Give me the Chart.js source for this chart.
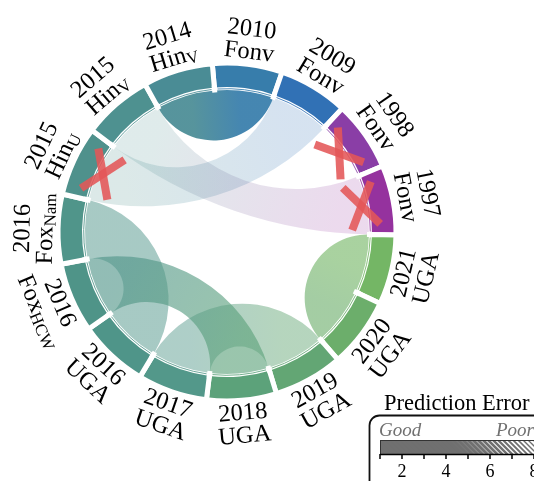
<!DOCTYPE html>
<html>
<head>
<meta charset="utf-8">
<script src="https://cdn.jsdelivr.net/npm/chart.js@4"></script>
<style>
html,body{margin:0;padding:0;background:#fff;overflow:hidden;}
canvas{display:block;}
</style>
</head>
<body>
<canvas id="c" width="534" height="481"></canvas>
<script>
// ---- data ----
const segYears = ['2010','2009','1998','1997','2021','2020','2019','2018','2017','2016','2016','2016','2015','2015','2014'];
const segNames = ['Fonv','Fonv','Fonv','Fonv','UGA','UGA','UGA','UGA','UGA','UGA','Fox','Fox','Hin','Hin','Hin'];
const segSubs  = ['','','','','','','','','','','HCW','Nam','U','V','V'];
const segSizes = [1,1,1,1,1,1,1,1,1,1,1,1,1,1,1];
const segColors = ['#377dab','#3171b5','#8a3ea6','#95329e','#74b665','#6cae6b','#63a674','#5ca27a','#53988a','#4f9589','#4f9488','#50958a','#4f918c','#4e9190','#4a8c95'];
const chordFrom = [1, 3, 14, 4, 11, 8, 10];
const chordTo   = [12, 13, 0, 5, 9, 6, 7];
const chordOpacity = [0.2, 0.18, 0.93, 0.62, 0.5, 0.47, 0.62];
const failedSegments = [12, 2, 3];
const legendTicks = [1,2,3,4,5,6,7,8];
const legendLabels = [2,4,6,8];
const legendTitle = 'Prediction Error';

function rgba(hex, a){
  const n = parseInt(hex.slice(1),16);
  return `rgba(${(n>>16)&255},${(n>>8)&255},${n&255},${a})`;
}

const SERIF = '"Liberation Serif","DejaVu Serif",serif';
const GAP = 5;

const chordPlugin = {
  id:'chords',
  afterDatasetsDraw(chart){
    const ctx = chart.ctx;
    const arcs = chart.getDatasetMeta(0).data;
    const cx = arcs[0].x, cy = arcs[0].y;
    const R = 142;
    const pt = (a,r)=>[cx+r*Math.cos(a), cy+r*Math.sin(a)];
    const geo = (a,b)=>{
      let d = Math.abs(b-a)%(2*Math.PI); if(d>Math.PI) d = 2*Math.PI-d;
      const p = pt(b,R);
      if (d < 1e-4 || Math.abs(d-Math.PI) < 1e-3) { ctx.lineTo(p[0],p[1]); return; }
      ctx.arcTo(cx, cy, p[0], p[1], R*Math.tan(d/2));
    };
    ctx.save();
    for (let k=0;k<chordFrom.length;k++){
      const s = arcs[chordFrom[k]], t = arcs[chordTo[k]];
      const s0=s.startAngle, s1=s.endAngle, t0=t.startAngle, t1=t.endAngle;
      ctx.beginPath();
      const p0 = pt(s0,R);
      ctx.moveTo(p0[0],p0[1]);
      ctx.arc(cx,cy,R,s0,s1,false);
      geo(s1,t0);
      ctx.arc(cx,cy,R,t0,t1,false);
      geo(t1,s0);
      ctx.closePath();
      const sm = pt((s0+s1)/2, R*0.8), tm = pt((t0+t1)/2, R*0.8);
      const g = ctx.createLinearGradient(sm[0],sm[1],tm[0],tm[1]);
      g.addColorStop(0, rgba(segColors[chordFrom[k]], chordOpacity[k]));
      g.addColorStop(1, rgba(segColors[chordTo[k]], chordOpacity[k]));
      ctx.fillStyle = g;
      ctx.fill();
    }
    // thin inner ring lines
    arcs.forEach((a,i)=>{
      const r = 143.3, d = (GAP/2+0.5)/r;
      ctx.beginPath();
      ctx.arc(cx,cy,r,a.startAngle+d,a.endAngle-d,false);
      ctx.strokeStyle = rgba(segColors[i],0.85);
      ctx.lineWidth = 1;
      ctx.stroke();
    });
    // notches at boundaries
    ctx.strokeStyle = '#fff';
    ctx.lineWidth = GAP;
    arcs.forEach(a=>{
      const p1 = pt(a.startAngle,140), p2 = pt(a.startAngle,147);
      ctx.beginPath(); ctx.moveTo(p1[0],p1[1]); ctx.lineTo(p2[0],p2[1]); ctx.stroke();
    });
    // X marks
    failedSegments.forEach(i=>{
      const a = arcs[i];
      const m = (a.startAngle+a.endAngle)/2;
      const c = pt(m,137);
      ctx.save();
      ctx.translate(c[0],c[1]);
      ctx.strokeStyle = 'rgba(228,86,88,0.88)';
      ctx.lineWidth = 8;
      [55,122].forEach(deg=>{
        const ang = m + deg*Math.PI/180;
        ctx.beginPath();
        ctx.moveTo(-26*Math.cos(ang),-26*Math.sin(ang));
        ctx.lineTo(26*Math.cos(ang),26*Math.sin(ang));
        ctx.stroke();
      });
      ctx.restore();
    });
    ctx.restore();
  },
  afterDraw(chart){
    const ctx = chart.ctx;
    const arcs = chart.getDatasetMeta(0).data;
    const cx = arcs[0].x, cy = arcs[0].y;
    ctx.save();
    ctx.fillStyle = '#000';
    ctx.textBaseline = 'middle';
    ctx.textAlign = 'left';
    const fs = 24.5;
    const drawLine = (txt, sub, y)=>{
      ctx.font = `${fs}px ${SERIF}`;
      const w1 = ctx.measureText(txt).width;
      ctx.font = `${Math.round(fs*0.68)}px ${SERIF}`;
      const w2 = sub ? ctx.measureText(sub).width : 0;
      const x0 = -(w1+w2)/2;
      ctx.font = `${fs}px ${SERIF}`;
      ctx.fillText(txt, x0, y);
      if (sub){
        ctx.font = `${Math.round(fs*0.68)}px ${SERIF}`;
        ctx.fillText(sub, x0+w1, y+5);
      }
    };
    arcs.forEach((a,i)=>{
      const m = (a.startAngle+a.endAngle)/2; // canvas angle
      const theta = m + Math.PI/2; // clockwise from top
      const upper = Math.cos(theta) > -0.01;
      ctx.save();
      ctx.translate(cx,cy);
      if (upper){
        ctx.rotate(theta);
        drawLine(segYears[i], '', -204);
        drawLine(segNames[i], segSubs[i], -181);
      } else {
        ctx.rotate(theta+Math.PI);
        drawLine(segYears[i], '', 182);
        drawLine(segNames[i], segSubs[i], 205);
      }
      ctx.restore();
    });

    // ---- legend (color bar) ----
    const bx = 380, by = 440, bh = 14, unit = 22, v0 = 1;
    const xOf = v => bx + (v - v0)*unit;
    ctx.beginPath();
    ctx.lineWidth = 1.8;
    ctx.strokeStyle = '#111';
    ctx.roundRect(369.5, 415.5, 240, 100, 10);
    ctx.stroke();
    ctx.font = `22.5px ${SERIF}`;
    ctx.fillStyle = '#000';
    ctx.textBaseline = 'alphabetic';
    ctx.fillText(legendTitle, 384, 410);
    ctx.font = `italic 19px ${SERIF}`;
    ctx.fillStyle = '#707070';
    ctx.fillText('Good', 379, 436);
    ctx.fillText('Poor', 496, 436);
    // bar
    ctx.save();
    ctx.beginPath();
    ctx.rect(bx, by, 200, bh);
    ctx.clip();
    ctx.fillStyle = '#fff';
    ctx.fillRect(bx, by, 200, bh);
    ctx.strokeStyle = '#707070';
    for (let x = 370; x < 570; x += 5){
      const f = Math.min(1, Math.max(0, (x-412)/125));
      ctx.lineWidth = 5.5 - f*4.3;
      ctx.beginPath();
      ctx.moveTo(x-9, by-2);
      ctx.lineTo(x+9, by+bh+2);
      ctx.stroke();
    }
    ctx.restore();
    ctx.strokeStyle = '#333';
    ctx.lineWidth = 1;
    ctx.strokeRect(bx+0.5, by+0.5, 200, bh);
    // ticks
    ctx.strokeStyle = '#000';
    ctx.lineWidth = 1.5;
    legendTicks.forEach(v=>{
      const x = xOf(v);
      ctx.beginPath(); ctx.moveTo(x, by+bh); ctx.lineTo(x, by+bh+5); ctx.stroke();
    });
    ctx.beginPath(); ctx.moveTo(bx, by+bh+0.5); ctx.lineTo(560, by+bh+0.5); ctx.stroke();
    ctx.font = `18px ${SERIF}`;
    ctx.fillStyle = '#000';
    ctx.textAlign = 'center';
    ctx.textBaseline = 'middle';
    legendLabels.forEach(v=>{
      ctx.fillText(String(v), xOf(v), 472);
    });
    ctx.restore();
  }
};

new Chart(document.getElementById('c'), {
  type: 'doughnut',
  data: {
    labels: segYears.map((y,i)=>y+' '+segNames[i]+segSubs[i]),
    datasets: [{
      data: segSizes,
      backgroundColor: segColors,
      borderColor: '#fff',
      borderWidth: GAP,
      borderAlign: 'center',
      hoverOffset: 0
    }]
  },
  options: {
    responsive: false,
    animation: false,
    events: [],
    rotation: -5,
    radius: 169,
    cutout: (142.5/169*100).toFixed(3) + '%',
    layout: { padding: { left: 0, top: 0, right: 80, bottom: 17 } },
    plugins: { legend: { display: false }, tooltip: { enabled: false } }
  },
  plugins: [chordPlugin]
});
</script>
</body>
</html>
